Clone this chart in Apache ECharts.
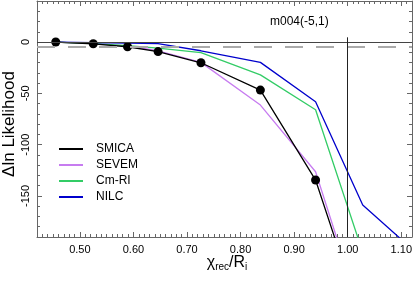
<!DOCTYPE html>
<html>
<head>
<meta charset="utf-8">
<script src="https://cdn.jsdelivr.net/npm/echarts@6/dist/echarts.min.js"></script>
<style>html,body{margin:0;padding:0;background:#fff}#c{width:415px;height:283px}</style>
</head>
<body>
<div id="c"></div>
<script>
// ---- data ----
var xSmica = [0.455, 0.525, 0.589, 0.646, 0.726, 0.837, 0.940, 1.028];
var ySmica = [0, -1.7, -4.6, -9.3, -20.2, -46.8, -134.5, -273];
var xSevem = [0.455, 0.525, 0.589, 0.646, 0.726, 0.837, 0.940, 1.028];
var ySevem = [0, -1.5, -3.8, -8.5, -19.8, -61.4, -126.4, -270];
var xCmri = [0.455, 0.525, 0.589, 0.646, 0.726, 0.837, 0.940, 1.028];
var yCmri = [0, -1.5, -3.5, -6, -10.4, -32, -66, -205];
var xNilc = [0.455, 0.525, 0.589, 0.646, 0.726, 0.837, 0.940, 1.028, 1.110];
var yNilc = [0, -0.5, -1, -1.5, -8.5, -19.8, -58.2, -158.9, -197];
var seriesNames = ['SMICA', 'SEVEM', 'Cm-RI', 'NILC'];
var xTicks = [0.5, 0.6, 0.7, 0.8, 0.9, 1.0, 1.1];
var yTicks = [-150, -100, -50, 0];
var xRange = [0.42, 1.12];
var yRange = [-190, 40];
var zeroLine = 0;
var thresholdLine = -4.6;
var vLineX = 1.0;
var vLineTop = 4.6;
var annotation = 'm004(-5,1)';

function pairs(xs, ys) { return xs.map(function (x, i) { return [x, ys[i]]; }); }
var xMinor = [], yMinor = [];
for (var k = 0; k <= 70; k++) xMinor.push(+(0.42 + k * 0.01).toFixed(2));
for (var j = -19; j <= 4; j++) yMinor.push(j * 10);

var axisCol = '#666';
var font = 'Liberation Sans, Arial, sans-serif';

function xa(pos, ticks, len, showLine, labels) {
  return {
    type: 'value', position: pos, min: xRange[0], max: xRange[1],
    axisLine: { show: showLine, onZero: false, lineStyle: { color: axisCol, width: 1 } },
    axisTick: { show: true, inside: true, length: len, customValues: ticks, lineStyle: { color: axisCol } },
    axisLabel: labels ? { show: true, customValues: ticks, margin: 7, color: '#000', fontSize: 11, fontFamily: font,
      formatter: function (v) { return v.toFixed(2); } } : { show: false },
    splitLine: { show: false }
  };
}
function ya(pos, ticks, len, showLine, labels) {
  return {
    type: 'value', position: pos, min: yRange[0], max: yRange[1],
    axisLine: { show: showLine, onZero: false, lineStyle: { color: axisCol, width: 1 } },
    axisTick: { show: true, inside: true, length: len, customValues: ticks, lineStyle: { color: axisCol } },
    axisLabel: labels ? { show: true, customValues: ticks, rotate: 90, margin: 6, color: '#000', fontSize: 11, fontFamily: font } : { show: false },
    splitLine: { show: false }
  };
}

var chart = echarts.init(document.getElementById('c'), null, { renderer: 'canvas' });
chart.setOption({
  animation: false,
  backgroundColor: '#fff',
  grid: { left: 37, right: 2, top: 1, bottom: 46 },
  xAxis: [xa('bottom', xTicks, 5, true, true), xa('bottom', xMinor, 3, false, false),
          xa('top', xTicks, 5, true, false), xa('top', xMinor, 3, false, false)],
  yAxis: [ya('left', yTicks, 5, true, true), ya('left', yMinor, 3, false, false),
          ya('right', yTicks, 5, true, false), ya('right', yMinor, 3, false, false)],
  title: { text: annotation, left: 270, top: 16, padding: 0,
    textStyle: { fontSize: 12, fontWeight: 'normal', color: '#000', fontFamily: font } },
  legend: {
    data: seriesNames, orient: 'vertical', left: 59, top: 142, padding: 0,
    icon: 'rect', itemWidth: 24, itemHeight: 2, itemGap: 2,
    textStyle: { fontSize: 12, color: '#000', fontFamily: font, lineHeight: 14, padding: [0, 0, 0, 8] }
  },
  graphic: [
    { type: 'text', x: 9, y: 124, rotation: Math.PI / 2,
      style: { text: 'Δln Likelihood', font: '17px ' + font, fill: '#000', align: 'center', verticalAlign: 'middle' } },
    { type: 'text', x: 227, y: 263,
      style: { text: '{a|χ}{s|rec}{a|/R}{s|i}', align: 'center', verticalAlign: 'middle',
        rich: { a: { fontSize: 16, fontFamily: font, fill: '#000', lineHeight: 18, verticalAlign: 'middle' },
                s: { fontSize: 10, fontFamily: font, fill: '#000', lineHeight: 18, verticalAlign: 'bottom' } } } }
  ],
  series: [
    { name: 'SEVEM', type: 'line', data: pairs(xSevem, ySevem), symbol: 'none', color: '#c77cf0',
      lineStyle: { width: 1.3 }, z: 2 },
    { name: 'Cm-RI', type: 'line', data: pairs(xCmri, yCmri), symbol: 'none', color: '#33cc66',
      lineStyle: { width: 1.3 }, z: 2 },
    { name: 'NILC', type: 'line', data: pairs(xNilc, yNilc), symbol: 'none', color: '#0000cc',
      lineStyle: { width: 1.3 }, z: 2 },
    { name: 'SMICA', type: 'line', data: pairs(xSmica, ySmica), symbol: 'circle', symbolSize: 9, color: '#000',
      lineStyle: { width: 1.3 }, z: 3,
      markLine: { silent: true, symbol: 'none', label: { show: false }, animation: false,
        data: [
          { yAxis: zeroLine, lineStyle: { color: '#444', width: 1.2, type: 'solid' } },
          { yAxis: thresholdLine, lineStyle: { color: '#aaa', width: 2, type: [18, 13] } },
          [{ coord: [vLineX, vLineTop], lineStyle: { color: '#222', width: 1, type: 'solid' } }, { coord: [vLineX, yRange[0]] }]
        ] } }
  ]
});
</script>
</body>
</html>
